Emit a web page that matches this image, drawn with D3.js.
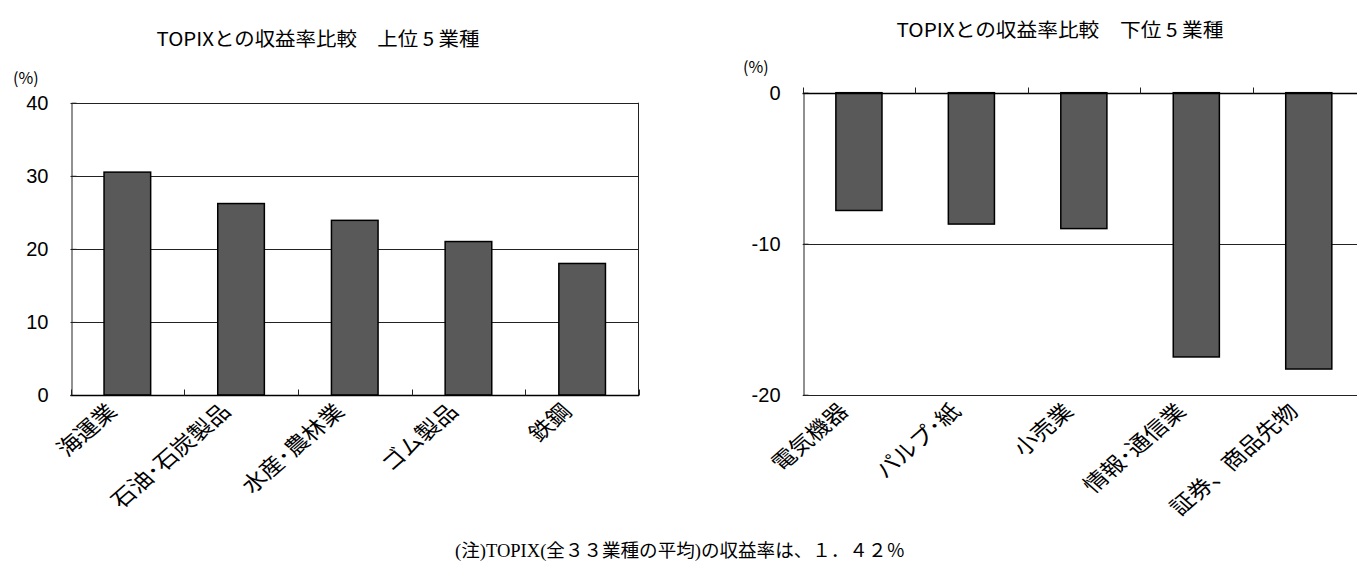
<!DOCTYPE html>
<html>
<head>
<meta charset="utf-8">
<title>TOPIXとの収益率比較</title>
<script src="https://cdn.jsdelivr.net/npm/d3@7/dist/d3.min.js"></script>
<style>
  body { margin: 0; background: #fff; }
  svg { display: block; }
  .jp { font-family: "Noto Sans CJK JP", "Noto Sans", sans-serif; fill: #000; }
  .num { font-family: "Liberation Sans", Arial, sans-serif; fill: #000; }
</style>
</head>
<body>
<script>
// 上位5業種
var topCats = ["海運業", "石油･石炭製品", "水産･農林業", "ゴム製品", "鉄鋼"];
var topVals = [30.5, 26.2, 23.9, 21.0, 18.0];
var topTicks = [0, 10, 20, 30, 40];

// 下位5業種
var lowCats = ["電気機器", "パルプ･紙", "小売業", "情報･通信業", "証券、商品先物"];
var lowVals = [-7.8, -8.7, -9.0, -17.5, -18.3];
var lowTicks = [-20, -10, 0];

var titles = ["TOPIXとの収益率比較　上位 5 業種", "TOPIXとの収益率比較　下位 5 業種"];
var note = "(注)TOPIX(全３３業種の平均)の収益率は、１．４２％";

var width = 1357, height = 563;
var stretch = 1.15; // source picture is a little wider than tall

var svg = d3.select("body").append("svg")
    .attr("width", width)
    .attr("height", height);

// left chart
drawChart({
    cats: topCats, vals: topVals, ticks: topTicks,
    domain: [0, 40],
    x0: 70.5, x1: 639, yTop: 102.7, yBot: 395,
    title: titles[0], titleX: 318, titleY: 46, titleW: 323,
    unitX: 13, unitY: 84
});

// right chart (runs off the right edge like the source)
drawChart({
    cats: lowCats, vals: lowVals, ticks: lowTicks,
    domain: [-20, 0],
    x0: 802.7, x1: 1365, yTop: 92.7, yBot: 394.7,
    title: titles[1], titleX: 1060, titleY: 37, titleW: 327,
    unitX: 743, unitY: 73
});

svg.append("text")
    .attr("x", 680)
    .attr("y", 557)
    .attr("text-anchor", "middle")
    .attr("textLength", 450)
    .attr("lengthAdjust", "spacingAndGlyphs")
    .style("font-family", "'Liberation Serif', 'Noto Sans CJK JP', serif")
    .style("font-size", "18px")
    .text(note);

function drawChart(o) {
    var g = svg.append("g");

    var x = d3.scaleBand()
        .domain(o.cats)
        .range([o.x0, o.x1])
        .paddingInner(0.59)
        .paddingOuter(0.295);

    var y = d3.scaleLinear()
        .domain(o.domain)
        .range([o.yBot, o.yTop]);

    var step = x.step();

    // gridlines
    g.append("g").selectAll("line")
        .data(o.ticks)
      .enter().append("line")
        .attr("x1", o.x0).attr("x2", o.x1)
        .attr("y1", function(d){ return Math.round(y(d)) + 0.5; })
        .attr("y2", function(d){ return Math.round(y(d)) + 0.5; })
        .attr("stroke", "#222")
        .attr("stroke-width", 1);

    // right border
    g.append("line")
        .attr("x1", Math.round(o.x1) - 0.5).attr("x2", Math.round(o.x1) - 0.5)
        .attr("y1", o.yTop).attr("y2", o.yBot)
        .attr("stroke", "#222");

    // y axis
    var yAxis = d3.axisLeft(y)
        .tickValues(o.ticks)
        .tickFormat(function(d){ return String(d); })
        .tickSizeInner(-5)
        .tickSizeOuter(0)
        .tickPadding(23);

    var ya = g.append("g")
        .attr("transform", "translate(" + (Math.round(o.x0) + 0.5) + ",0)")
        .call(yAxis);
    ya.select(".domain").attr("stroke", "#222");
    ya.selectAll(".tick line").attr("stroke", "#222");
    ya.selectAll(".tick text")
        .attr("class", "num")
        .style("font-size", "20px")
        .attr("fill", "#000");

    // bars
    g.append("g").selectAll("rect")
        .data(o.vals)
      .enter().append("rect")
        .attr("x", function(d, i){ return x(o.cats[i]); })
        .attr("width", x.bandwidth())
        .attr("y", function(d){ return y(Math.max(0, d)); })
        .attr("height", function(d){ return Math.abs(y(d) - y(0)); })
        .attr("fill", "#595959")
        .attr("stroke", "#000")
        .attr("stroke-width", 1.5);

    // category axis line (at zero) with tick marks pointing up
    var zy = Math.round(y(0)) + 0.5;
    g.append("line")
        .attr("x1", o.x0).attr("x2", o.x1)
        .attr("y1", zy).attr("y2", zy)
        .attr("stroke", "#000")
        .attr("stroke-width", 1.5);

    g.append("g").selectAll("line")
        .data(d3.range(o.cats.length + 1))
      .enter().append("line")
        .attr("x1", function(i){ return Math.round(o.x0 + i * step) + 0.5; })
        .attr("x2", function(i){ return Math.round(o.x0 + i * step) + 0.5; })
        .attr("y1", zy).attr("y2", zy - 6)
        .attr("stroke", "#222");

    // category labels
    g.append("g").selectAll("text")
        .data(o.cats)
      .enter().append("text")
        .attr("class", "jp")
        .attr("text-anchor", "end")
        .style("font-size", "21px")
        .attr("transform", function(d){
            var cx = x(d) + x.bandwidth() / 2 - 9;
            return "translate(" + cx + "," + (o.yBot + 18) + ") scale(" + stretch + ",1) rotate(-45)";
        })
        .text(function(d){ return d; });

    // title
    g.append("text")
        .attr("class", "jp")
        .attr("x", o.titleX)
        .attr("y", o.titleY)
        .attr("text-anchor", "middle")
        .attr("textLength", o.titleW)
        .attr("lengthAdjust", "spacingAndGlyphs")
        .style("font-size", "19px")
        .text(o.title);

    // unit
    g.append("text")
        .attr("class", "jp")
        .attr("x", o.unitX)
        .attr("y", o.unitY)
        .style("font-size", "16px")
        .text("(%)");
}
</script>
</body>
</html>
